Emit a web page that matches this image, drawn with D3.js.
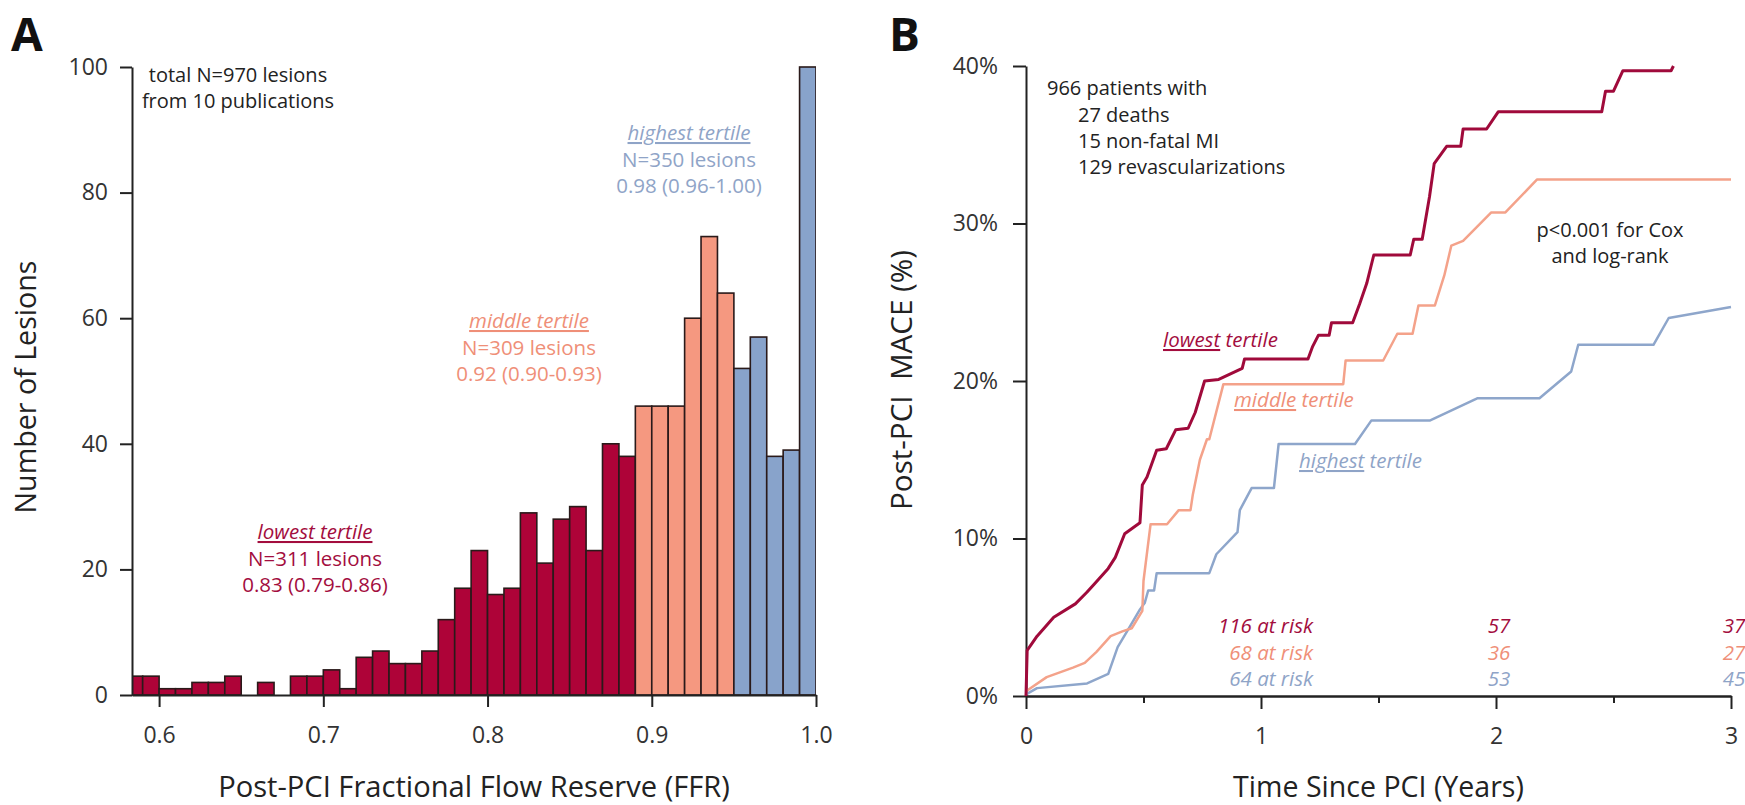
<!DOCTYPE html>
<html>
<head>
<meta charset="utf-8">
<script src="https://cdn.jsdelivr.net/npm/d3@7"></script>
<style>
  body { margin: 0; background: #fff; }
  text { font-family: "Open Sans", "Noto Sans", sans-serif; }
</style>
</head>
<body>
<script>
// ---- Histogram data (left panel) ----
var binLower = [0.58, 0.59, 0.60, 0.61, 0.62, 0.63, 0.64, 0.65, 0.66, 0.67,
                0.68, 0.69, 0.70, 0.71, 0.72, 0.73, 0.74, 0.75, 0.76, 0.77,
                0.78, 0.79, 0.80, 0.81, 0.82, 0.83, 0.84, 0.85, 0.86, 0.87,
                0.88, 0.89, 0.90, 0.91, 0.92, 0.93, 0.94, 0.95, 0.96, 0.97,
                0.98, 0.99];
var lesionCounts = [3, 3, 1, 1, 2, 2, 3, 0, 2, 0,
                    3, 3, 4, 1, 6, 7, 5, 5, 7, 12,
                    17, 23, 16, 17, 29, 21, 28, 30, 23, 40,
                    38, 46, 46, 46, 60, 73, 64, 52, 57, 38,
                    39, 100];
var binWidth = 0.01;
var tertileCuts = [0.89, 0.95];   // lower edge of middle / highest tertile bins
var ffrTicks = [0.6, 0.7, 0.8, 0.9, 1.0];
var countTicks = [0, 20, 40, 60, 80, 100];

// ---- Cumulative MACE curves (right panel), [years, %] ----
var kmLowest = [[0, 0], [0.005, 2.9], [0.047, 3.8], [0.118, 5.0], [0.21, 5.85], [0.26, 6.6],
  [0.29, 7.1], [0.35, 8.1], [0.38, 8.8], [0.42, 10.3], [0.485, 11.0], [0.495, 13.4],
  [0.515, 13.9], [0.556, 15.6], [0.597, 15.7], [0.637, 16.9], [0.69, 17.0], [0.72, 18.0],
  [0.76, 20.0], [0.82, 20.1], [0.92, 20.8], [0.93, 21.4], [1.20, 21.4], [1.22, 22.2],
  [1.244, 22.9], [1.29, 22.9], [1.30, 23.7], [1.39, 23.7], [1.42, 24.9], [1.45, 26.2],
  [1.48, 28.0], [1.635, 28.0], [1.65, 29.0], [1.686, 29.0], [1.717, 31.7], [1.737, 33.8],
  [1.79, 34.9], [1.85, 34.9], [1.86, 36.0], [1.96, 36.0], [2.01, 37.1], [2.45, 37.1],
  [2.466, 38.4], [2.50, 38.4], [2.54, 39.7], [2.745, 39.7], [2.755, 40.0]];
var kmMiddle = [[0, 0.3], [0.088, 1.2], [0.2, 1.8], [0.25, 2.1], [0.30, 2.8], [0.36, 3.8],
  [0.41, 4.1], [0.45, 4.3], [0.495, 5.4], [0.50, 7.3], [0.53, 10.9], [0.60, 10.9],
  [0.65, 11.8], [0.70, 11.8], [0.71, 12.8], [0.74, 15.0], [0.77, 16.3], [0.78, 16.3],
  [0.84, 19.8], [1.35, 19.8], [1.36, 21.3], [1.52, 21.3], [1.58, 23.0], [1.645, 23.0],
  [1.67, 24.8], [1.74, 24.8], [1.78, 26.7], [1.81, 28.6], [1.86, 28.9], [1.98, 30.7],
  [2.04, 30.7], [2.175, 32.8], [3.0, 32.8]];
var kmHighest = [[0, 0.1], [0.047, 0.5], [0.26, 0.8], [0.35, 1.4], [0.39, 3.1], [0.43, 4.1],
  [0.485, 5.5], [0.505, 5.9], [0.52, 6.7], [0.545, 6.7], [0.556, 7.8], [0.78, 7.8],
  [0.81, 9.0], [0.90, 10.4], [0.91, 11.8], [0.96, 13.2], [1.055, 13.2], [1.075, 16.0],
  [1.40, 16.0], [1.47, 17.5], [1.72, 17.5], [1.92, 18.9], [2.185, 18.9], [2.32, 20.6],
  [2.35, 22.3], [2.67, 22.3], [2.735, 24.0], [3.0, 24.7]];
var riskYears = [1, 2, 3];
var riskLowest = [116, 57, 37];
var riskMiddle = [68, 36, 27];
var riskHighest = [64, 53, 45];
var yearTicks = [0, 1, 2, 3];
var halfYearTicks = [0.5, 1.5, 2.5];
var maceTicks = [0, 10, 20, 30, 40];

// colours per tertile
var barFill = ["#AE0338", "#F59880", "#88A3CB"];
var lineCol = ["#A00A3B", "#F4A28A", "#8EA6CB"];
var textCol = ["#A30D3E", "#EF8F78", "#8FA4C7"];

var svgC = d3.select("body").append("svg").attr("width", 1745).attr("height", 805);

// shrink/grow a text so it spans a given width
function fitWidth(sel, w) {
  var cur = sel.node().getComputedTextLength();
  var fs = parseFloat(sel.style("font-size"));
  sel.style("font-size", (fs * w / cur) + "px");
}

function styleAxis(g) {
  g.selectAll("path.domain").attr("stroke", "#222").attr("stroke-width", 2);
  g.selectAll(".tick line").attr("stroke", "#222").attr("stroke-width", 2);
  g.selectAll(".tick text").style("font-size", "23px").attr("fill", "#333").style("font-family", "'Open Sans', sans-serif");
}

// ================= Panel A : histogram =================
var xA = d3.scaleLinear().domain([0.5835, 1.0]).range([132, 816]);
var yA = d3.scaleLinear().domain([0, 100]).range([695, 67]);

svgC.append("clipPath").attr("id", "clipA")
  .append("rect").attr("x", xA.range()[0]).attr("y", 0)
  .attr("width", xA.range()[1] - xA.range()[0]).attr("height", 805);

function tertileOf(v) {
  if (v < tertileCuts[0] - 1e-6) return 0;
  if (v < tertileCuts[1] - 1e-6) return 1;
  return 2;
}

var bins = binLower.map(function(b, i) { return { lo: b, n: lesionCounts[i], t: tertileOf(b) }; })
  .filter(function(d) { return d.n > 0; });

svgC.append("g").attr("clip-path", "url(#clipA)")
  .selectAll("rect").data(bins).enter().append("rect")
  .attr("x", function(d) { return xA(d.lo); })
  .attr("width", function(d) { return xA(d.lo + binWidth) - xA(d.lo); })
  .attr("y", function(d) { return yA(d.n); })
  .attr("height", function(d) { return yA(0) - yA(d.n); })
  .style("fill", function(d) { return barFill[d.t]; })
  .attr("stroke", "#2a1a1a")
  .attr("stroke-width", 1.6);

var axAy = svgC.append("g").attr("transform", "translate(" + xA.range()[0] + ",0)")
  .call(d3.axisLeft(yA).tickValues(countTicks).tickSize(12).tickSizeOuter(0).tickPadding(12));
styleAxis(axAy);

var axAx = svgC.append("g").attr("transform", "translate(0," + yA(0) + ")")
  .call(d3.axisBottom(xA).tickValues(ffrTicks).tickSize(12).tickSizeOuter(0).tickPadding(20)
    .tickFormat(d3.format(".1f")));
styleAxis(axAx);

var tA = svgC.append("text").attr("x", (xA.range()[0] + xA.range()[1]) / 2).attr("y", 797)
  .attr("text-anchor", "middle").style("font-size", "24px").attr("fill", "#222")
  .text("Post-PCI Fractional Flow Reserve (FFR)");
fitWidth(tA, 512);

var tAy = svgC.append("text").attr("transform", "translate(36,387) rotate(-90)")
  .attr("text-anchor", "middle").style("font-size", "24px").attr("fill", "#222")
  .text("Number of Lesions");
fitWidth(tAy, 253);

svgC.append("text").attr("x", 11).attr("y", 51).style("font-size", "46px")
  .style("font-weight", "bold").attr("fill", "#111").text("A");

// header note
var noteA = svgC.append("text").attr("text-anchor", "middle").style("font-size", "20px").attr("fill", "#222");
noteA.append("tspan").attr("x", 238).attr("y", 82).text("total N=970 lesions");
noteA.append("tspan").attr("x", 238).attr("y", 108).text("from 10 publications");

// tertile labels in the histogram
var tertileLabels = [
  { name: "lowest tertile", n: "N=311 lesions", med: "0.83 (0.79-0.86)", x: 315, y: 539 },
  { name: "middle tertile", n: "N=309 lesions", med: "0.92 (0.90-0.93)", x: 529, y: 328 },
  { name: "highest tertile", n: "N=350 lesions", med: "0.98 (0.96-1.00)", x: 689, y: 140 }
];
tertileLabels.forEach(function(d, i) {
  var t = svgC.append("text").attr("text-anchor", "middle").style("font-size", "20.5px")
    .attr("fill", textCol[i]);
  t.append("tspan").attr("x", d.x).attr("y", d.y).style("font-style", "italic")
    .style("text-decoration", "underline").text(d.name);
  t.append("tspan").attr("x", d.x).attr("y", d.y + 26.5).text(d.n);
  t.append("tspan").attr("x", d.x).attr("y", d.y + 53).text(d.med);
});

// ================= Panel B : cumulative MACE =================
var xB = d3.scaleLinear().domain([0, 3]).range([1026, 1731]);
var yB = d3.scaleLinear().domain([0, 40]).range([696, 66]);

var axBy = svgC.append("g").attr("transform", "translate(" + xB(0) + ",0)")
  .call(d3.axisLeft(yB).tickValues(maceTicks).tickSize(13).tickSizeOuter(0).tickPadding(15)
    .tickFormat(function(d) { return d + "%"; }));
styleAxis(axBy);

var axBx = svgC.append("g").attr("transform", "translate(0," + yB(0) + ")")
  .call(d3.axisBottom(xB).tickValues(yearTicks).tickSize(13).tickSizeOuter(0).tickPadding(19)
    .tickFormat(d3.format("d")));
styleAxis(axBx);

var axBxMinor = svgC.append("g").attr("transform", "translate(0," + yB(0) + ")")
  .call(d3.axisBottom(xB).tickValues(halfYearTicks).tickSize(7).tickSizeOuter(0).tickFormat(""));
styleAxis(axBxMinor);

var line = d3.line().x(function(d) { return xB(d[0]); }).y(function(d) { return yB(d[1]); });

[kmHighest, kmMiddle, kmLowest].forEach(function(series, k) {
  var i = 2 - k;
  svgC.append("path").datum(series).attr("d", line)
    .attr("fill", "none").attr("stroke", lineCol[i])
    .attr("stroke-width", i === 0 ? 3 : 2.5)
    .attr("stroke-linejoin", "round");
});

var tBx = svgC.append("text").attr("x", (xB.range()[0] + xB.range()[1]) / 2).attr("y", 797)
  .attr("text-anchor", "middle").style("font-size", "24px").attr("fill", "#222")
  .text("Time Since PCI (Years)");
fitWidth(tBx, 291);

var tBy = svgC.append("text").attr("transform", "translate(912,380) rotate(-90)")
  .attr("text-anchor", "middle").style("font-size", "24px").attr("fill", "#222")
  .style("white-space", "pre").text("Post-PCI  MACE (%)");
fitWidth(tBy, 260);

svgC.append("text").attr("x", 889).attr("y", 51).style("font-size", "46px")
  .style("font-weight", "bold").attr("fill", "#111").text("B");

// event summary
var noteB = svgC.append("text").style("font-size", "20px").attr("fill", "#222");
noteB.append("tspan").attr("x", 1047).attr("y", 95).text("966 patients with");
noteB.append("tspan").attr("x", 1078).attr("y", 122).text("27 deaths");
noteB.append("tspan").attr("x", 1078).attr("y", 148).text("15 non-fatal MI");
noteB.append("tspan").attr("x", 1078).attr("y", 174).text("129 revascularizations");

var pNote = svgC.append("text").attr("text-anchor", "middle").style("font-size", "20px").attr("fill", "#222");
pNote.append("tspan").attr("x", 1610).attr("y", 237).text("p<0.001 for Cox");
pNote.append("tspan").attr("x", 1610).attr("y", 263).text("and log-rank");

// curve labels
var curveLabels = [
  { word: "lowest", x: 1163, y: 347 },
  { word: "middle", x: 1234, y: 407 },
  { word: "highest", x: 1299, y: 468 }
];
curveLabels.forEach(function(d, i) {
  var t = svgC.append("text").attr("x", d.x).attr("y", d.y).style("font-size", "20.5px")
    .style("font-style", "italic").attr("fill", textCol[i]);
  t.append("tspan").style("text-decoration", "underline").text(d.word);
  t.append("tspan").text(" tertile");
});

// numbers at risk
[riskLowest, riskMiddle, riskHighest].forEach(function(arr, i) {
  var yy = 633 + i * 26.5;
  arr.forEach(function(v, j) {
    var first = j === 0;
    svgC.append("text")
      .attr("x", first ? xB(riskYears[j]) + 52 : xB(riskYears[j]) + 3)
      .attr("y", yy)
      .attr("text-anchor", first ? "end" : "middle")
      .style("font-size", "20.5px").style("font-style", "italic")
      .attr("fill", textCol[i])
      .text(first ? v + " at risk" : v);
  });
});
</script>
</body>
</html>
